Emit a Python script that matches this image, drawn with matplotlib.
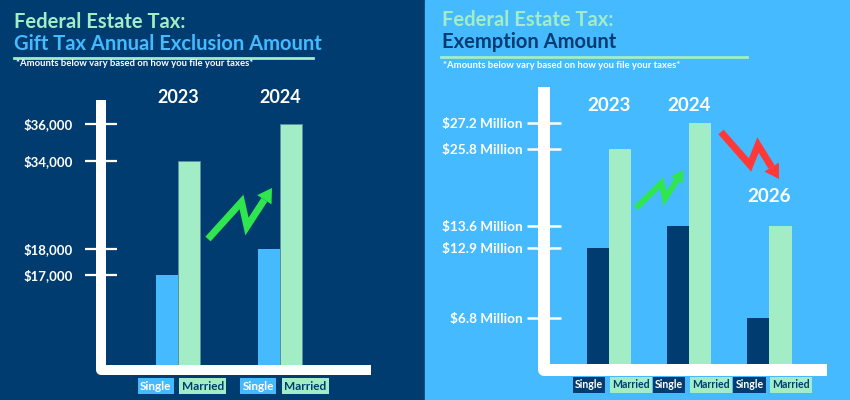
import numpy as np
import matplotlib.pyplot as plt
from matplotlib.patches import Rectangle, Polygon

plt.rcParams['font.family'] = ['Lato', 'DejaVu Sans']

NAVY = '#013c71'
SKY = '#46bafe'
MINT = '#a2edc5'
GREEN = '#2fe64f'
RED = '#ff3838'

# 左图：赠与税年度免税额
gift_years = ['2023', '2024']
gift_single = [17000, 18000]
gift_married = [34000, 36000]
gift_ticks = [17000, 18000, 34000, 36000]
gift_ticklabels = ['$17,000', '$18,000', '$34,000', '$36,000']

# 右图：遗产税免税额（百万美元）
estate_years = ['2023', '2024', '2026']
estate_single = [12.9, 13.6, 6.8]
estate_married = [25.8, 27.2, 13.6]
estate_ticks = [6.8, 12.9, 13.6, 25.8, 27.2]
estate_ticklabels = ['$6.8 Million', '$12.9 Million', '$13.6 Million',
                     '$25.8 Million', '$27.2 Million']

W, H = 850, 400
fig = plt.figure(figsize=(8.5, 4), dpi=100)

# 背景层（像素坐标）
ax0 = fig.add_axes([0, 0, 1, 1], zorder=0)
ax0.set_xlim(0, W)
ax0.set_ylim(H, 0)
ax0.axis('off')
ax0.add_patch(Rectangle((0, 0), 425, 400, color=NAVY))
ax0.add_patch(Rectangle((425, 0), 425, 400, color=SKY))


def zigzag_arrow(pts, color, lw, head_len, head_w):
    pts = np.asarray(pts, float)
    tip = pts[-1]
    d = tip - pts[-2]
    u = d / np.hypot(*d)
    p = np.array([-u[1], u[0]])
    base = tip - head_len * u
    line = np.vstack([pts[:-1], base])
    ax0.plot(line[:, 0], line[:, 1], color=color, lw=lw * 0.72,
             solid_joinstyle='miter', solid_capstyle='butt')
    ax0.add_patch(Polygon([tip, base + p * head_w / 2, base - p * head_w / 2],
                          closed=True, color=color, lw=0))


# 标题
ax0.text(14, 28, 'Federal Estate Tax:', color=MINT, fontsize=14.5,
         fontweight='bold', va='baseline')
ax0.text(14, 50, 'Gift Tax Annual Exclusion Amount', color=SKY, fontsize=14.5,
         fontweight='bold', va='baseline')
ax0.plot([14, 313], [57.5, 57.5], color=MINT, lw=2)
ax0.text(16, 64, '*Amounts below vary based on how you file your taxes*',
         color='white', fontsize=6.8, fontweight='bold', va='center')

ax0.text(442, 26, 'Federal Estate Tax:', color=MINT, fontsize=14.5,
         fontweight='bold', va='baseline')
ax0.text(442, 48, 'Exemption Amount', color=NAVY, fontsize=14.5,
         fontweight='bold', va='baseline')
ax0.plot([441, 747], [56.7, 56.7], color=MINT, lw=2)
ax0.text(443, 66, '*Amounts below vary based on how you file your taxes*',
         color='white', fontsize=6.8, fontweight='bold', va='center')

# L 形坐标轴
ax0.plot([101, 101, 371], [100, 370, 370], color='white', lw=10 * 0.72,
         solid_joinstyle='round', solid_capstyle='butt')
ax0.plot([544, 544, 827], [87, 370, 370], color='white', lw=12 * 0.72,
         solid_joinstyle='round', solid_capstyle='butt')

# 趋势箭头
zigzag_arrow([(208, 239), (241.5, 202), (247, 226.5), (272, 188)], GREEN, 7, 14, 17)
zigzag_arrow([(636, 208), (661.5, 183), (665, 198.5), (683.5, 170)], GREEN, 6, 12, 14)
zigzag_arrow([(721, 132), (750, 165), (758, 145), (779, 179)], RED, 7, 14, 17)


def piecewise_scale(vals, heights):
    v = np.asarray(vals, float)
    h = np.asarray(heights, float)
    return (lambda x: np.interp(x, v, h)), (lambda t: np.interp(t, h, v))


def panel(left, right, bottom, top, xlim, scale, ymax):
    ax = fig.add_axes([left / W, 1 - bottom / H, (right - left) / W,
                       (bottom - top) / H], zorder=2)
    ax.patch.set_alpha(0)
    for s in ax.spines.values():
        s.set_visible(False)
    ax.set_yscale('function', functions=scale)
    ax.set_ylim(0, ymax)
    ax.set_xlim(*xlim)
    ax.set_xticks([])
    return ax


def bar_labels(ax, n, single_fc, dx_s, dx_m, size):
    for i in range(n):
        ax.annotate('Single', xy=(i, 0), xycoords=ax.get_xaxis_transform(),
                    xytext=(dx_s, -21), textcoords='offset pixels',
                    ha='center', va='center', color='white', fontsize=size,
                    fontweight='bold',
                    bbox=dict(boxstyle='square,pad=0.2', fc=single_fc, ec='none'))
        ax.annotate('Married', xy=(i, 0), xycoords=ax.get_xaxis_transform(),
                    xytext=(dx_m, -21), textcoords='offset pixels',
                    ha='center', va='center', color=NAVY, fontsize=size,
                    fontweight='bold',
                    bbox=dict(boxstyle='square,pad=0.2', fc=MINT, ec='none'))


# 左图柱状
axL = panel(101, 371, 365, 124, (-0.753, 1.889),
            piecewise_scale([0, 17000, 18000, 34000, 36000], [0, 90, 116, 204, 241]),
            36000)
x = np.arange(len(gift_years))
bw = 0.213
axL.bar(x - bw / 2, gift_single, bw, color=SKY)
axL.bar(x + bw / 2, gift_married, bw, color=MINT, edgecolor='#5d8fa0', linewidth=0.6)
axL.set_yticks(gift_ticks)
axL.set_yticklabels(gift_ticklabels, fontweight='bold')
axL.tick_params(axis='y', direction='inout', length=23, width=1.6, color='white',
                labelcolor='white', labelsize=9.5, pad=8.5)
for i, yr in enumerate(gift_years):
    axL.text(i, 1.112, yr, transform=axL.get_xaxis_transform(), ha='center',
             va='center', color='white', fontsize=13, fontweight='bold')
bar_labels(axL, len(gift_years), SKY, -22, 25, 8.5)

# 右图柱状
axR = panel(544, 827, 364, 123.3, (-0.81, 2.718),
            piecewise_scale([0, 6.8, 12.9, 13.6, 25.8, 27.2],
                            [0, 46, 116.3, 138.3, 215, 240.7]),
            27.2)
x = np.arange(len(estate_years))
bw = 0.278
axR.bar(x - bw / 2, estate_single, bw, color=NAVY)
axR.bar(x + bw / 2, estate_married, bw, color=MINT)
axR.set_yticks(estate_ticks)
axR.set_yticklabels(estate_ticklabels, fontweight='bold')
axR.tick_params(axis='y', direction='inout', length=24.5, width=1.8, color='white',
                labelcolor='white', labelsize=9.8, pad=3)
year_y = [1.073, 1.073, 0.695]
for i, yr in enumerate(estate_years):
    axR.text(i, year_y[i], yr, transform=axR.get_xaxis_transform(), ha='center',
             va='center', color='white', fontsize=13.5, fontweight='bold')
bar_labels(axR, len(estate_years), NAVY, -20, 22, 7.6)

fig.savefig('out.png', dpi=100)
